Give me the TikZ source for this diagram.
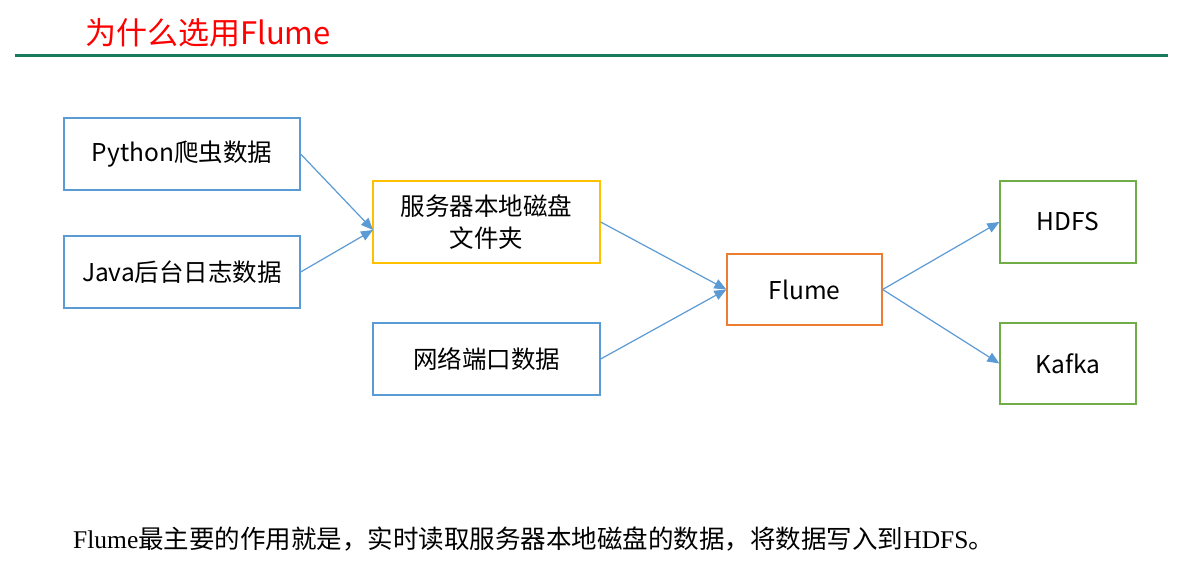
\documentclass[tikz,border=0pt]{standalone}
\usepackage{fontspec}
\setmainfont{Liberation Sans}
\newfontfamily\cjk{Noto Sans CJK SC}
\newfontfamily\serifx{Liberation Serif}
\usetikzlibrary{arrows.meta}
\definecolor{cblue}{HTML}{5B9BD5}
\definecolor{cyel}{HTML}{FFC000}
\definecolor{corg}{HTML}{ED7D31}
\definecolor{cgrn}{HTML}{70AD47}
\definecolor{cline}{HTML}{1A7A5E}
\begin{document}
\begin{tikzpicture}[x=1pt,y=-1pt,
  bx/.style={draw=#1,line width=1.3pt,inner sep=0pt,font=\fontsize{24.5}{32}\selectfont\cjk,align=center},
  ar/.style={draw=cblue,line width=1.2pt,-{Triangle[length=12pt,width=10pt]}}]
\useasboundingbox (0,0) rectangle (1193,570);
\fill[white] (0,0) rectangle (1193,570);
\draw[cline,line width=3pt] (15,55) -- (1168,55);
\node[anchor=base west,text=red,font=\fontsize{31}{36}\selectfont\cjk,inner sep=0pt] (title) at (85,44) {为什么选用Flume};
\node[bx=cblue,minimum width=236pt,minimum height=72pt] (py) at (182,154) {Python爬虫数据};
\node[bx=cblue,minimum width=236pt,minimum height=72pt] (ja) at (182,272) {Java后台日志数据};
\node[bx=cyel,minimum width=227pt,minimum height=82pt] (sv) at (486.5,222) {服务器本地磁盘\\文件夹};
\node[bx=cblue,minimum width=227pt,minimum height=72pt] (nw) at (486.5,359) {网络端口数据};
\node[bx=corg,minimum width=155pt,minimum height=71pt] (fl) at (804.5,289.5) {Flume};
\node[bx=cgrn,minimum width=136pt,minimum height=82pt] (hd) at (1068,222) {HDFS};
\node[bx=cgrn,minimum width=136pt,minimum height=81pt] (kf) at (1068,363.5) {Kafka};
\coordinate (svin) at (373,230);
\draw[ar] (py.east) -- (svin);
\draw[ar] (ja.east) -- (svin);
\draw[ar] (sv.east) -- (fl.west);
\draw[ar] (nw.east) -- (fl.west);
\draw[ar] (fl.east) -- (hd.west);
\draw[ar] (fl.east) -- (kf.west);
\node[anchor=base west,inner sep=0pt,font=\fontsize{25.5}{30}\selectfont] (note) at (73,548) {{\serifx Flume}{\cjk 最主要的作用就是，实时读取服务器本地磁盘的数据，将数据写入到}{\serifx HDFS}{\cjk 。}};
\end{tikzpicture}
\end{document}
